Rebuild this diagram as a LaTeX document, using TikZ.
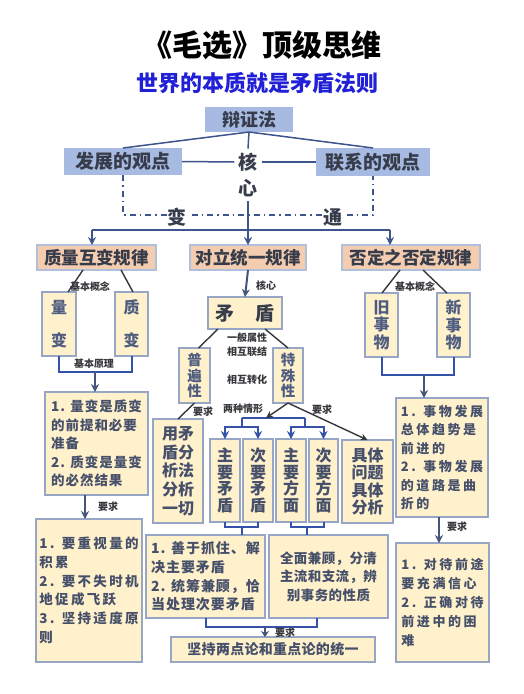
\documentclass[tikz,border=0pt]{standalone}
\usepackage{fontspec}
\setmainfont{Noto Sans CJK SC}
\usetikzlibrary{arrows.meta,calc}
\definecolor{bfill}{RGB}{166,186,226}
\definecolor{pfill}{RGB}{244,204,176}
\definecolor{pdraw}{RGB}{176,192,218}
\definecolor{yfill}{RGB}{255,241,204}
\definecolor{ydraw}{RGB}{150,166,196}
\definecolor{txt}{RGB}{55,60,75}
\definecolor{btxt}{RGB}{70,80,106}
\definecolor{vtxt}{RGB}{78,92,128}
\definecolor{lc}{RGB}{62,84,140}
\definecolor{ac}{RGB}{70,86,122}
\definecolor{bc}{RGB}{52,82,168}
\definecolor{gl}{RGB}{55,55,60}
\definecolor{subc}{RGB}{32,32,214}
\newcommand\fsz[2]{\fontsize{#1}{#2}\selectfont}
\newcommand\lsp[1]{\addfontfeatures{LetterSpace=#1}}
\begin{document}
\begin{tikzpicture}[x=1pt,y=-1pt,
  base/.style={inner sep=0pt, outer sep=0pt, text=txt},
  bluebox/.style={base, fill=bfill, font=\bfseries\fsz{19}{22}},
  pbox/.style={base, fill=pfill, draw=pdraw, line width=1.2pt, minimum height=25pt, font=\bfseries\fsz{17.5}{20}},
  ybox/.style={base, fill=yfill, draw=ydraw, line width=1.2pt, text=btxt},
  vbox/.style={ybox, align=center, text=vtxt},
  tbox/.style={ybox, align=left},
  lbl/.style={font=\bfseries\fsz{10}{12}, text=gl, inner sep=1pt},
  bigc/.style={font=\bfseries\fsz{19}{22}, text=txt, inner sep=4pt},
  conn/.style={draw=lc, line width=1.5pt},
  gline/.style={draw=gl, line width=1.4pt},
  garr/.style={draw=gl, line width=1.4pt, -{Stealth[length=7pt,width=7pt]}},
  arr/.style={draw=ac, line width=2pt, -{Stealth[length=8pt,width=8pt]}},
  brk/.style={draw=bc, line width=2pt},
  dd/.style={draw=lc, line width=1.5pt, dash pattern=on 6pt off 4pt on 1.5pt off 4pt}
]
\useasboundingbox (0,0) rectangle (523,694);
\fill[white] (0,0) rectangle (523,694);

% titles
\node[font=\bfseries\fsz{30}{34}, text=black] (title) at (262,45) {《毛选》顶级思维};
\node[font=\bfseries\fsz{22}{26}, text=subc] (sub) at (257,83) {世界的本质就是矛盾法则};

% top level
\node[bluebox, minimum width=88pt, minimum height=25pt, font=\bfseries\fsz{18}{20}] (bz) at (249,119.5) {辩证法};
\node[bluebox, minimum width=118pt, minimum height=27pt] (fz) at (123,161.5) {发展的观点};
\node[bluebox, minimum width=114pt, minimum height=28pt] (lx) at (373,162) {联系的观点};
\node[bigc] (he) at (248,162) {核};
\node[bigc] (xin) at (248,188) {心};

\draw[conn] (bz.south) -- (fz.north);
\draw[conn] (bz.south) -- (lx.north);
\draw[conn] (bz.south) -- (he.north);
\draw[conn] (fz.east) -- (he.west);
\draw[conn] (he.east) -- (lx.west);

\coordinate (dl) at (123,215);
\draw[dd] (fz.south) -- (fz.south |- dl) -- (lx.south |- dl) -- (lx.south);
\node[bigc, fill=white, inner sep=1pt] (bian) at (177,217) {变};
\node[bigc, fill=white, inner sep=1pt] (tong) at (333,217) {通};

% laws
\node[pbox, minimum width=119pt] (zl) at (96.5,257.5) {质量互变规律};
\node[pbox, minimum width=116pt] (dtl) at (248,257.5) {对立统一规律};
\node[pbox, minimum width=138pt] (fd) at (411,257.5) {否定之否定规律};

\coordinate (hl) at (92,230);
\coordinate (hr) at (390,230);
\draw[brk, draw=lc] (hl) -- (hr);
\draw[arr, draw=lc] (hl) -- (hl |- zl.north);
\draw[arr, draw=lc] (hr) -- (hr |- fd.north);
\draw[arr, draw=lc] (xin.south) -- (dtl.north);

% left column
\node[vbox, minimum width=34pt, minimum height=64pt, font=\bfseries\fsz{16}{33}] (lb) at (59,324) {量\\变};
\node[vbox, minimum width=33pt, minimum height=64pt, font=\bfseries\fsz{16}{33}] (zb) at (131.5,324) {质\\变};
\draw[gline] ([xshift=-13.5pt]zl.south) -- ([xshift=9pt]lb.north);
\draw[gline] ([xshift=24.5pt]zl.south) -- ([xshift=1.5pt]zb.north);
\node[lbl] (l1) at (90,287) {基本概念};
\coordinate (qm) at (95,372);
\draw[brk] (lb.south) |- (qm) -| (zb.south);
\node[lbl] (l2) at (94,364) {基本原理};

\node[tbox, minimum width=103pt, minimum height=103pt, font=\bfseries\fsz{13.5}{18.5}\lsp{7}] (qb1) at (96.5,443.5)
  {1. 量变是质变\\的前提和必要\\准备\\2. 质变是量变\\的必然结果};
\draw[arr] (qm) -- (qm |- qb1.north);
\node[tbox, minimum width=106pt, minimum height=143pt, font=\bfseries\fsz{13.5}{18.7}\lsp{17}] (qb2) at (89,590.5)
  {1. 要重视量的\\积累\\2. 要不失时机\\地促成飞跃\\3. 坚持适度原\\则};
\coordinate (qa) at ([xshift=-11.5pt]qb1.south);
\draw[arr] (qa) -- (qa |- qb2.north);
\node[lbl] (l3) at (108,507) {要求};

% middle column
\node[ybox, minimum width=74pt, minimum height=32pt, font=\bfseries\fsz{19}{22}, text=txt] (md) at (245,313) {矛\hspace{22pt}盾};
\draw[arr] (dtl.south) -- (md.north);
\node[lbl] (l4) at (266,286) {核心};

\node[vbox, minimum width=31pt, minimum height=55pt, font=\bfseries\fsz{14.5}{15.5}] (pb) at (194.5,375.5) {普\\遍\\性};
\node[vbox, minimum width=30pt, minimum height=55pt, font=\bfseries\fsz{14.5}{15.5}] (ts) at (288,375.5) {特\\殊\\性};
\draw[gline] ([xshift=-27pt]md.south) -- ([xshift=4pt]pb.north);
\draw[gline] ([xshift=20pt]md.south) -- (ts.north);
\node[lbl] (l5) at (247,338) {一般属性};
\node[lbl] (l6) at (247,352) {相互联结};
\node[lbl] (l7) at (247,380) {相互转化};

\node[ybox, align=center, minimum width=50pt, minimum height=104pt, font=\bfseries\fsz{16}{18.7}] (ym) at (178,471) {用矛\\盾分\\析法\\分析\\一切};
\draw[gline] (pb.south) -- (ym.north);
\node[lbl] (l8) at (203,412) {要求};

\node[vbox, minimum width=30pt, minimum height=83pt, font=\bfseries\fsz{16}{16.5}, text=btxt] (zm) at (225,480.5) {主\\要\\矛\\盾};
\node[vbox, minimum width=30pt, minimum height=83pt, font=\bfseries\fsz{16}{16.5}, text=btxt] (cm) at (258,480.5) {次\\要\\矛\\盾};
\node[vbox, minimum width=30pt, minimum height=83pt, font=\bfseries\fsz{16}{16.5}, text=btxt] (zf) at (291,480.5) {主\\要\\方\\面};
\node[vbox, minimum width=29pt, minimum height=83pt, font=\bfseries\fsz{16}{16.5}, text=btxt] (cf) at (323.5,480.5) {次\\要\\方\\面};
\node[ybox, align=center, minimum width=51pt, minimum height=83pt, font=\bfseries\fsz{16}{17.5}] (jt) at (367.5,481.5) {具体\\问题\\具体\\分析};

\coordinate (b1) at (242,418);
\coordinate (b2) at (305,418);
\coordinate (b1d) at (242,427);
\coordinate (b2d) at (305,427);
\coordinate (bt) at (266,418);
\draw[brk] (b1) -- (b2);
\draw[brk] (b1) -- (b1d);
\draw[brk] (b2) -- (b2d);
\draw[brk, -{Stealth[length=8pt,width=8pt]}] (b1d) -| (zm.north);
\draw[brk, -{Stealth[length=8pt,width=8pt]}] (b1d) -| (cm.north);
\draw[brk, -{Stealth[length=8pt,width=8pt]}] (b2d) -| (zf.north);
\draw[brk, -{Stealth[length=8pt,width=8pt]}] (b2d) -| (cf.north);
\draw[garr] (ts.south) -- (bt);
\draw[garr] (ts.south) -- (jt.north);
\node[lbl] (l9) at (243,409) {两种情形};
\node[lbl] (l10) at (322,410) {要求};

\node[tbox, minimum width=119pt, minimum height=83pt, font=\bfseries\fsz{14}{18.7}\lsp{7}] (sy) at (205.5,576.5)
  {1. 善于抓住、解\\决主要矛盾\\2. 统筹兼顾，恰\\当处理次要矛盾};
\node[ybox, align=center, minimum width=119pt, minimum height=83pt, font=\bfseries\fsz{13.5}{18.5}\lsp{3}] (qq) at (328.5,576.5)
  {全面兼顾，分清\\主流和支流，辨\\别事务的性质};

\coordinate (c1) at (241.5,527);
\coordinate (c2) at (307,527);
\draw[brk] (zm.south) |- (c1) -| (cm.south);
\draw[brk] (c1) -- (c1 |- sy.north);
\draw[brk] (zf.south) |- (c2) -| (cf.south);
\draw[brk] (c2) -- (c2 |- qq.north);

\node[ybox, minimum width=204pt, minimum height=25pt, font=\bfseries\fsz{14}{17}\lsp{2}] (jc) at (273,649.5) {坚持两点论和重点论的统一};
\coordinate (bm) at (265,627);
\coordinate (qr) at ([xshift=-11.5pt]qq.south);
\draw[brk] (sy.south) |- (bm) -| (qr);
\draw[arr, -{Stealth[length=6pt,width=8pt]}] (bm) -- (bm |- jc.north);
\node[lbl] (l11) at (285,633) {要求};

% right column
\node[vbox, minimum width=33pt, minimum height=64pt, font=\bfseries\fsz{16}{17.5}] (jw) at (381.5,325) {旧\\事\\物};
\node[vbox, minimum width=33pt, minimum height=64pt, font=\bfseries\fsz{16}{17.5}] (xw) at (453.5,325) {新\\事\\物};
\draw[gline] ([xshift=-11pt]fd.south) -- ([xshift=0.5pt]jw.north);
\draw[gline] ([xshift=12pt]fd.south) -- ([xshift=-6.5pt]xw.north);
\node[lbl] (l12) at (415,287) {基本概念};
\coordinate (nm) at (424,375);
\draw[brk] (jw.south) |- (nm) -| (xw.south);

\node[tbox, minimum width=92pt, minimum height=119pt, font=\bfseries\fsz{13}{18.5}\lsp{20}] (nb1) at (442,457.5)
  {1. 事物发展\\总体趋势是\\前进的\\2. 事物发展\\的道路是曲\\折的};
\draw[arr] (nm) -- (nm |- nb1.north);
\node[tbox, minimum width=93pt, minimum height=119pt, font=\bfseries\fsz{13}{19}\lsp{20}] (nb2) at (442.5,602.5)
  {1. 对待前途\\要充满信心\\2. 正确对待\\前进中的困\\难};
\coordinate (na) at ([xshift=-3pt]nb1.south);
\draw[arr] (na) -- (na |- nb2.north);
\node[lbl] (l13) at (457,527) {要求};
\end{tikzpicture}
\end{document}
